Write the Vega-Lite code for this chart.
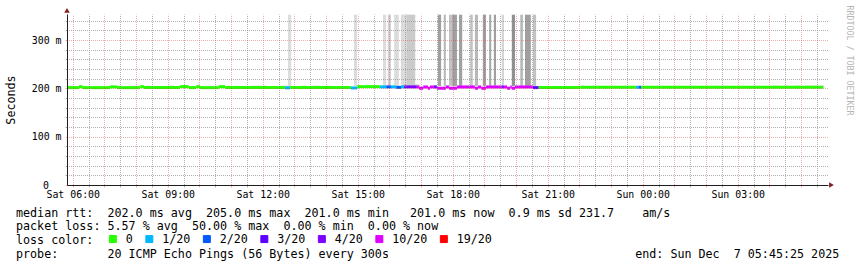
{
  "$schema": "https://vega.github.io/schema/vega-lite/v6.json",
  "width": 761,
  "height": 171,
  "autosize": {"type": "none"},
  "padding": {"left": 67, "top": 14, "right": 29, "bottom": 82},
  "background": "white",
  "config": {"view": {"stroke": null}, "font": "DejaVu Sans Mono"},
  "title": {
    "text": [
      "median rtt:\u00a0\u00a0202.0 ms avg\u00a0\u00a0205.0 ms max\u00a0\u00a0201.0 ms min\u00a0\u00a0\u00a0201.0 ms now\u00a0\u00a00.9 ms sd 231.7\u00a0\u00a0\u00a0\u00a0am/s",
      "packet loss: 5.57 % avg\u00a0\u00a050.00 % max\u00a0\u00a00.00 % min\u00a0\u00a00.00 % now",
      "loss color:",
      "probe:\u00a0\u00a0\u00a0\u00a0\u00a0\u00a0\u00a020 ICMP Echo Pings (56 Bytes) every 300s\u00a0\u00a0\u00a0\u00a0\u00a0\u00a0\u00a0\u00a0\u00a0\u00a0\u00a0\u00a0\u00a0\u00a0\u00a0\u00a0\u00a0\u00a0\u00a0\u00a0\u00a0\u00a0\u00a0\u00a0\u00a0\u00a0\u00a0\u00a0\u00a0\u00a0\u00a0\u00a0\u00a0\u00a0\u00a0end: Sun Dec\u00a0\u00a07 05:45:25 2025"
    ],
    "orient": "bottom",
    "anchor": "start",
    "frame": "group",
    "font": "DejaVu Sans Mono",
    "fontSize": 11.7,
    "fontWeight": "normal",
    "color": "black",
    "lineHeight": 13.7,
    "offset": 4,
    "dx": -51,
    "dy": -42.3
  },
  "datasets": {
    "median": [
      {"t0": "2025-12-06T05:45:00Z", "t1": "2025-12-06T06:12:00Z", "rtt": 0.2015, "loss": "0"},
      {"t0": "2025-12-06T06:12:00Z", "t1": "2025-12-06T06:18:00Z", "rtt": 0.2035, "loss": "0"},
      {"t0": "2025-12-06T06:18:00Z", "t1": "2025-12-06T07:11:00Z", "rtt": 0.2015, "loss": "0"},
      {"t0": "2025-12-06T07:11:00Z", "t1": "2025-12-06T07:24:00Z", "rtt": 0.2030, "loss": "0"},
      {"t0": "2025-12-06T07:24:00Z", "t1": "2025-12-06T08:08:00Z", "rtt": 0.2015, "loss": "0"},
      {"t0": "2025-12-06T08:08:00Z", "t1": "2025-12-06T08:15:00Z", "rtt": 0.2035, "loss": "0"},
      {"t0": "2025-12-06T08:15:00Z", "t1": "2025-12-06T09:23:00Z", "rtt": 0.2015, "loss": "0"},
      {"t0": "2025-12-06T09:23:00Z", "t1": "2025-12-06T09:40:00Z", "rtt": 0.2035, "loss": "0"},
      {"t0": "2025-12-06T09:40:00Z", "t1": "2025-12-06T09:54:00Z", "rtt": 0.2015, "loss": "0"},
      {"t0": "2025-12-06T09:54:00Z", "t1": "2025-12-06T10:01:00Z", "rtt": 0.2035, "loss": "0"},
      {"t0": "2025-12-06T10:01:00Z", "t1": "2025-12-06T10:37:00Z", "rtt": 0.2015, "loss": "0"},
      {"t0": "2025-12-06T10:37:00Z", "t1": "2025-12-06T10:49:00Z", "rtt": 0.2035, "loss": "0"},
      {"t0": "2025-12-06T10:49:00Z", "t1": "2025-12-06T12:42:00Z", "rtt": 0.2015, "loss": "0"},
      {"t0": "2025-12-06T12:42:00Z", "t1": "2025-12-06T12:52:00Z", "rtt": 0.2010, "loss": "1/20"},
      {"t0": "2025-12-06T12:52:00Z", "t1": "2025-12-06T14:47:00Z", "rtt": 0.2015, "loss": "0"},
      {"t0": "2025-12-06T14:47:00Z", "t1": "2025-12-06T14:59:00Z", "rtt": 0.2008, "loss": "1/20"},
      {"t0": "2025-12-06T14:59:00Z", "t1": "2025-12-06T15:42:00Z", "rtt": 0.2035, "loss": "0"},
      {"t0": "2025-12-06T15:42:00Z", "t1": "2025-12-06T15:54:00Z", "rtt": 0.2030, "loss": "1/20"},
      {"t0": "2025-12-06T15:54:00Z", "t1": "2025-12-06T16:03:00Z", "rtt": 0.2030, "loss": "2/20"},
      {"t0": "2025-12-06T16:03:00Z", "t1": "2025-12-06T16:13:00Z", "rtt": 0.2030, "loss": "1/20"},
      {"t0": "2025-12-06T16:13:00Z", "t1": "2025-12-06T16:22:00Z", "rtt": 0.2020, "loss": "2/20"},
      {"t0": "2025-12-06T16:22:00Z", "t1": "2025-12-06T16:28:00Z", "rtt": 0.2030, "loss": "1/20"},
      {"t0": "2025-12-06T16:28:00Z", "t1": "2025-12-06T16:33:00Z", "rtt": 0.2030, "loss": "3/20"},
      {"t0": "2025-12-06T16:33:00Z", "t1": "2025-12-06T16:52:00Z", "rtt": 0.2030, "loss": "4/20"},
      {"t0": "2025-12-06T16:52:00Z", "t1": "2025-12-06T16:56:00Z", "rtt": 0.2028, "loss": "10/20"},
      {"t0": "2025-12-06T16:56:00Z", "t1": "2025-12-06T17:04:00Z", "rtt": 0.2002, "loss": "10/20"},
      {"t0": "2025-12-06T17:04:00Z", "t1": "2025-12-06T17:13:00Z", "rtt": 0.2028, "loss": "10/20"},
      {"t0": "2025-12-06T17:13:00Z", "t1": "2025-12-06T17:17:00Z", "rtt": 0.2002, "loss": "10/20"},
      {"t0": "2025-12-06T17:17:00Z", "t1": "2025-12-06T17:24:00Z", "rtt": 0.2028, "loss": "10/20"},
      {"t0": "2025-12-06T17:24:00Z", "t1": "2025-12-06T17:30:00Z", "rtt": 0.2028, "loss": "4/20"},
      {"t0": "2025-12-06T17:30:00Z", "t1": "2025-12-06T17:47:00Z", "rtt": 0.2002, "loss": "10/20"},
      {"t0": "2025-12-06T17:47:00Z", "t1": "2025-12-06T17:53:00Z", "rtt": 0.2028, "loss": "10/20"},
      {"t0": "2025-12-06T17:53:00Z", "t1": "2025-12-06T18:08:00Z", "rtt": 0.2002, "loss": "10/20"},
      {"t0": "2025-12-06T18:08:00Z", "t1": "2025-12-06T18:42:00Z", "rtt": 0.2028, "loss": "10/20"},
      {"t0": "2025-12-06T18:42:00Z", "t1": "2025-12-06T18:48:00Z", "rtt": 0.2002, "loss": "10/20"},
      {"t0": "2025-12-06T18:48:00Z", "t1": "2025-12-06T18:54:00Z", "rtt": 0.2028, "loss": "10/20"},
      {"t0": "2025-12-06T18:54:00Z", "t1": "2025-12-06T19:03:00Z", "rtt": 0.2002, "loss": "10/20"},
      {"t0": "2025-12-06T19:03:00Z", "t1": "2025-12-06T19:33:00Z", "rtt": 0.2028, "loss": "10/20"},
      {"t0": "2025-12-06T19:33:00Z", "t1": "2025-12-06T19:37:00Z", "rtt": 0.2028, "loss": "4/20"},
      {"t0": "2025-12-06T19:37:00Z", "t1": "2025-12-06T19:43:00Z", "rtt": 0.2028, "loss": "10/20"},
      {"t0": "2025-12-06T19:43:00Z", "t1": "2025-12-06T19:49:00Z", "rtt": 0.2002, "loss": "10/20"},
      {"t0": "2025-12-06T19:49:00Z", "t1": "2025-12-06T19:52:00Z", "rtt": 0.2028, "loss": "10/20"},
      {"t0": "2025-12-06T19:52:00Z", "t1": "2025-12-06T19:58:00Z", "rtt": 0.2002, "loss": "10/20"},
      {"t0": "2025-12-06T19:58:00Z", "t1": "2025-12-06T20:32:00Z", "rtt": 0.2028, "loss": "10/20"},
      {"t0": "2025-12-06T20:32:00Z", "t1": "2025-12-06T20:43:00Z", "rtt": 0.2015, "loss": "3/20"},
      {"t0": "2025-12-06T20:43:00Z", "t1": "2025-12-06T22:02:00Z", "rtt": 0.2015, "loss": "0"},
      {"t0": "2025-12-06T22:02:00Z", "t1": "2025-12-06T23:47:00Z", "rtt": 0.2022, "loss": "0"},
      {"t0": "2025-12-06T23:47:00Z", "t1": "2025-12-06T23:52:00Z", "rtt": 0.2022, "loss": "1/20"},
      {"t0": "2025-12-06T23:52:00Z", "t1": "2025-12-06T23:57:00Z", "rtt": 0.2022, "loss": "2/20"},
      {"t0": "2025-12-06T23:57:00Z", "t1": "2025-12-07T05:42:00Z", "rtt": 0.2022, "loss": "0"}
    ],
    "smoke": [
      {"t0": "2025-12-06T12:48:00Z", "t1": "2025-12-06T12:54:00Z", "lo": 0.205, "hi": 0.3524, "n": 1},
      {"t0": "2025-12-06T14:53:00Z", "t1": "2025-12-06T14:59:00Z", "lo": 0.205, "hi": 0.3524, "n": 1},
      {"t0": "2025-12-06T15:48:00Z", "t1": "2025-12-06T15:54:00Z", "lo": 0.205, "hi": 0.3524, "n": 1},
      {"t0": "2025-12-06T15:57:00Z", "t1": "2025-12-06T16:03:00Z", "lo": 0.205, "hi": 0.3524, "n": 2},
      {"t0": "2025-12-06T16:09:00Z", "t1": "2025-12-06T16:18:00Z", "lo": 0.205, "hi": 0.3524, "n": 1},
      {"t0": "2025-12-06T16:22:00Z", "t1": "2025-12-06T16:32:00Z", "lo": 0.205, "hi": 0.3524, "n": 1},
      {"t0": "2025-12-06T16:32:00Z", "t1": "2025-12-06T16:49:00Z", "lo": 0.205, "hi": 0.3524, "n": 3},
      {"t0": "2025-12-06T17:32:00Z", "t1": "2025-12-06T17:38:00Z", "lo": 0.205, "hi": 0.3524, "n": 8},
      {"t0": "2025-12-06T17:43:00Z", "t1": "2025-12-06T17:47:00Z", "lo": 0.205, "hi": 0.3524, "n": 5},
      {"t0": "2025-12-06T17:53:00Z", "t1": "2025-12-06T17:59:00Z", "lo": 0.205, "hi": 0.3524, "n": 4},
      {"t0": "2025-12-06T17:59:00Z", "t1": "2025-12-06T18:08:00Z", "lo": 0.205, "hi": 0.3524, "n": 8},
      {"t0": "2025-12-06T18:12:00Z", "t1": "2025-12-06T18:18:00Z", "lo": 0.205, "hi": 0.3524, "n": 8},
      {"t0": "2025-12-06T18:33:00Z", "t1": "2025-12-06T18:38:00Z", "lo": 0.205, "hi": 0.3524, "n": 4},
      {"t0": "2025-12-06T18:42:00Z", "t1": "2025-12-06T18:48:00Z", "lo": 0.205, "hi": 0.3524, "n": 5},
      {"t0": "2025-12-06T18:57:00Z", "t1": "2025-12-06T19:03:00Z", "lo": 0.205, "hi": 0.3524, "n": 8},
      {"t0": "2025-12-06T19:09:00Z", "t1": "2025-12-06T19:13:00Z", "lo": 0.205, "hi": 0.3524, "n": 7},
      {"t0": "2025-12-06T19:18:00Z", "t1": "2025-12-06T19:22:00Z", "lo": 0.205, "hi": 0.3524, "n": 8},
      {"t0": "2025-12-06T19:33:00Z", "t1": "2025-12-06T19:37:00Z", "lo": 0.205, "hi": 0.3524, "n": 2},
      {"t0": "2025-12-06T19:52:00Z", "t1": "2025-12-06T19:58:00Z", "lo": 0.205, "hi": 0.3524, "n": 10},
      {"t0": "2025-12-06T20:08:00Z", "t1": "2025-12-06T20:13:00Z", "lo": 0.205, "hi": 0.3524, "n": 5},
      {"t0": "2025-12-06T20:17:00Z", "t1": "2025-12-06T20:28:00Z", "lo": 0.205, "hi": 0.3524, "n": 8},
      {"t0": "2025-12-06T20:32:00Z", "t1": "2025-12-06T20:38:00Z", "lo": 0.205, "hi": 0.3524, "n": 4},
      {"t0": "2025-12-06T05:49:00Z", "t1": "2025-12-06T05:59:00Z", "lo": 0.2005, "hi": 0.2055, "n": 2},
      {"t0": "2025-12-06T07:08:00Z", "t1": "2025-12-06T07:18:00Z", "lo": 0.2005, "hi": 0.2055, "n": 1},
      {"t0": "2025-12-06T07:24:00Z", "t1": "2025-12-06T07:33:00Z", "lo": 0.2005, "hi": 0.2055, "n": 3},
      {"t0": "2025-12-06T07:52:00Z", "t1": "2025-12-06T08:02:00Z", "lo": 0.2005, "hi": 0.2055, "n": 1},
      {"t0": "2025-12-06T08:17:00Z", "t1": "2025-12-06T08:27:00Z", "lo": 0.2005, "hi": 0.2055, "n": 2},
      {"t0": "2025-12-06T08:59:00Z", "t1": "2025-12-06T09:12:00Z", "lo": 0.2005, "hi": 0.2055, "n": 3},
      {"t0": "2025-12-06T10:14:00Z", "t1": "2025-12-06T10:28:00Z", "lo": 0.2005, "hi": 0.2055, "n": 1},
      {"t0": "2025-12-06T10:52:00Z", "t1": "2025-12-06T10:58:00Z", "lo": 0.2005, "hi": 0.2055, "n": 3},
      {"t0": "2025-12-06T11:08:00Z", "t1": "2025-12-06T11:15:00Z", "lo": 0.2005, "hi": 0.2055, "n": 1},
      {"t0": "2025-12-06T11:36:00Z", "t1": "2025-12-06T11:49:00Z", "lo": 0.2005, "hi": 0.2055, "n": 2},
      {"t0": "2025-12-06T11:49:00Z", "t1": "2025-12-06T12:06:00Z", "lo": 0.2005, "hi": 0.2055, "n": 3},
      {"t0": "2025-12-06T12:33:00Z", "t1": "2025-12-06T12:56:00Z", "lo": 0.2005, "hi": 0.2055, "n": 2},
      {"t0": "2025-12-06T13:11:00Z", "t1": "2025-12-06T13:24:00Z", "lo": 0.2005, "hi": 0.2055, "n": 1},
      {"t0": "2025-12-06T13:35:00Z", "t1": "2025-12-06T13:49:00Z", "lo": 0.2005, "hi": 0.2055, "n": 3},
      {"t0": "2025-12-06T13:58:00Z", "t1": "2025-12-06T14:08:00Z", "lo": 0.2005, "hi": 0.2055, "n": 1},
      {"t0": "2025-12-06T16:26:00Z", "t1": "2025-12-06T16:58:00Z", "lo": 0.2005, "hi": 0.208, "n": 3},
      {"t0": "2025-12-06T17:23:00Z", "t1": "2025-12-06T17:30:00Z", "lo": 0.2005, "hi": 0.207, "n": 2},
      {"t0": "2025-12-06T18:17:00Z", "t1": "2025-12-06T18:23:00Z", "lo": 0.2005, "hi": 0.2055, "n": 1},
      {"t0": "2025-12-06T22:02:00Z", "t1": "2025-12-06T22:09:00Z", "lo": 0.2005, "hi": 0.2055, "n": 1},
      {"t0": "2025-12-07T02:16:00Z", "t1": "2025-12-07T02:22:00Z", "lo": 0.2005, "hi": 0.2055, "n": 1},
      {"t0": "2025-12-07T04:07:00Z", "t1": "2025-12-07T04:20:00Z", "lo": 0.2005, "hi": 0.2055, "n": 1},
      {"t0": "2025-12-07T04:27:00Z", "t1": "2025-12-07T04:37:00Z", "lo": 0.2005, "hi": 0.2055, "n": 2},
      {"t0": "2025-12-07T04:48:00Z", "t1": "2025-12-07T04:58:00Z", "lo": 0.2005, "hi": 0.2055, "n": 3},
      {"t0": "2025-12-07T05:11:00Z", "t1": "2025-12-07T05:43:00Z", "lo": 0.2005, "hi": 0.2055, "n": 2}
    ]
  },
  "layer": [
    {
      "data": {"name": "smoke"},
      "mark": {"type": "rect", "clip": true},
      "encoding": {
        "x": {
          "field": "t0", "type": "temporal",
          "scale": {"type": "utc", "nice": false, "domain": [1765000150000, 1765086665000]},
          "axis": {
            "title": null,
            "tickCount": 48,
            "grid": true,
            "gridColor": {"condition": {"test": "utcminutes(datum.value) == 0", "value": "rgba(222,79,79,0.45)"}, "value": "rgba(143,143,143,0.7)"},
            "gridDash": [1, 1],
            "gridDashOffset": 0.5,
            "tickSize": 2,
            "tickColor": {"condition": {"test": "utcminutes(datum.value) == 0", "value": "rgba(222,79,79,0.45)"}, "value": "rgba(143,143,143,0.7)"},
            "domainColor": "#1f1f1f",
            "labelExpr": "utchours(datum.value) % 3 == 0 && utcminutes(datum.value) == 0 ? utcFormat(datum.value, '%a %H:%M') : ''",
            "labelFont": "DejaVu Sans Mono",
            "labelFontSize": 9.9,
            "labelColor": "black",
            "labelPadding": 2,
            "labelOverlap": false,
            "labelFlush": false,
            "zindex": 1
          }
        },
        "x2": {"field": "t1"},
        "y": {
          "field": "lo", "type": "quantitative",
          "scale": {"domain": [0, 0.3538], "nice": false, "zero": true},
          "axis": {
            "values": [0, 0.02, 0.04, 0.06, 0.08, 0.1, 0.12, 0.14, 0.16, 0.18, 0.2, 0.22, 0.24, 0.26, 0.28, 0.3, 0.32, 0.34],
            "grid": true,
            "gridColor": {"condition": {"test": "round(datum.value*1000) % 100 == 0", "value": "rgba(222,79,79,0.45)"}, "value": "rgba(143,143,143,0.7)"},
            "gridDash": [1, 1],
            "gridDashOffset": 0.5,
            "tickSize": 2,
            "tickColor": {"condition": {"test": "round(datum.value*1000) % 100 == 0", "value": "rgba(222,79,79,0.45)"}, "value": "rgba(143,143,143,0.7)"},
            "domainColor": "#1f1f1f",
            "labelExpr": "round(datum.value*1000) % 100 == 0 ? (datum.value == 0 ? '0' : '' + round(datum.value*1000) + ' m') : ''",
            "labelPadding": {"condition": {"test": "datum.value == 0", "value": 16.5}, "value": 4},
            "labelFont": "DejaVu Sans Mono",
            "labelFontSize": 9.9,
            "labelColor": "black",
            "labelOverlap": false,
            "title": "Seconds",
            "titleFont": "DejaVu Sans Mono",
            "titleFontSize": 11.7,
            "titleFontWeight": "normal",
            "titleColor": "black",
            "titleAngle": -90,
            "titleX": -56.5,
            "titleY": 85.5,
            "titleAlign": "center",
            "titleBaseline": "middle",
            "zindex": 1
          }
        },
        "y2": {"field": "hi"},
        "fill": {
          "field": "n", "type": "quantitative",
          "scale": {"domain": [1, 10], "range": ["#dcdcdc", "#909090"]},
          "legend": null
        }
      }
    },
    {
      "data": {"name": "median"},
      "mark": {"type": "rule", "strokeWidth": 3, "clip": true},
      "encoding": {
        "x": {"field": "t0", "type": "temporal"},
        "x2": {"field": "t1"},
        "y": {
          "field": "rtt", "type": "quantitative",
          "axis": {
            "orient": "right",
            "labels": false, "ticks": false, "domain": false, "grid": false,
            "title": "RRDTOOL / TOBI OETIKER",
            "titleAngle": 90,
            "titleX": 20,
            "titleY": -9,
            "titleAlign": "left",
            "titleBaseline": "middle",
            "titleColor": "#b4b4b4",
            "titleFont": "DejaVu Sans Mono",
            "titleFontSize": 8.3,
            "titleFontWeight": "normal"
          }
        },
        "color": {
          "field": "loss", "type": "nominal",
          "scale": {
            "domain": ["0", "1/20", "2/20", "3/20", "4/20", "10/20", "19/20"],
            "range": ["#26ff00", "#00b8ff", "#0059ff", "#5e00ff", "#7e00ff", "#dd00ff", "#ff0000"]
          },
          "legend": {
            "orient": "none",
            "legendX": 40,
            "legendY": 219,
            "direction": "horizontal",
            "columns": 7,
            "title": null,
            "padding": 0,
            "symbolType": "square",
            "symbolSize": 49,
            "symbolStrokeWidth": 1,
            "symbolStrokeColor": "black",
            "labelFont": "DejaVu Sans Mono",
            "labelFontSize": 11.7,
            "labelColor": "black",
            "labelOffset": 7,
            "columnPadding": 10.5,
            "encode": {
              "symbols": {
                "update": {
                  "fill": {"scale": "color", "field": "value"},
                  "stroke": {"value": "black"},
                  "strokeWidth": {"value": 1},
                  "opacity": {"value": 1}
                }
              }
            }
          }
        }
      }
    },
    {
      "data": {"values": [{}]},
      "mark": {"type": "point", "shape": "triangle-up", "filled": true, "color": "#801f1f", "opacity": 1, "size": 30},
      "encoding": {
        "x": {"datum": 1765000150000, "type": "temporal"},
        "y": {"datum": 0.3611, "type": "quantitative", "axis": null}
      }
    },
    {
      "data": {"values": [{}]},
      "mark": {"type": "point", "shape": "triangle-right", "filled": true, "color": "#801f1f", "opacity": 1, "size": 30},
      "encoding": {
        "x": {"datum": 1765087060000, "type": "temporal"},
        "y": {"datum": 0, "type": "quantitative", "axis": null}
      }
    }
  ],
  "resolve": {"axis": {"y": "independent"}}
}
